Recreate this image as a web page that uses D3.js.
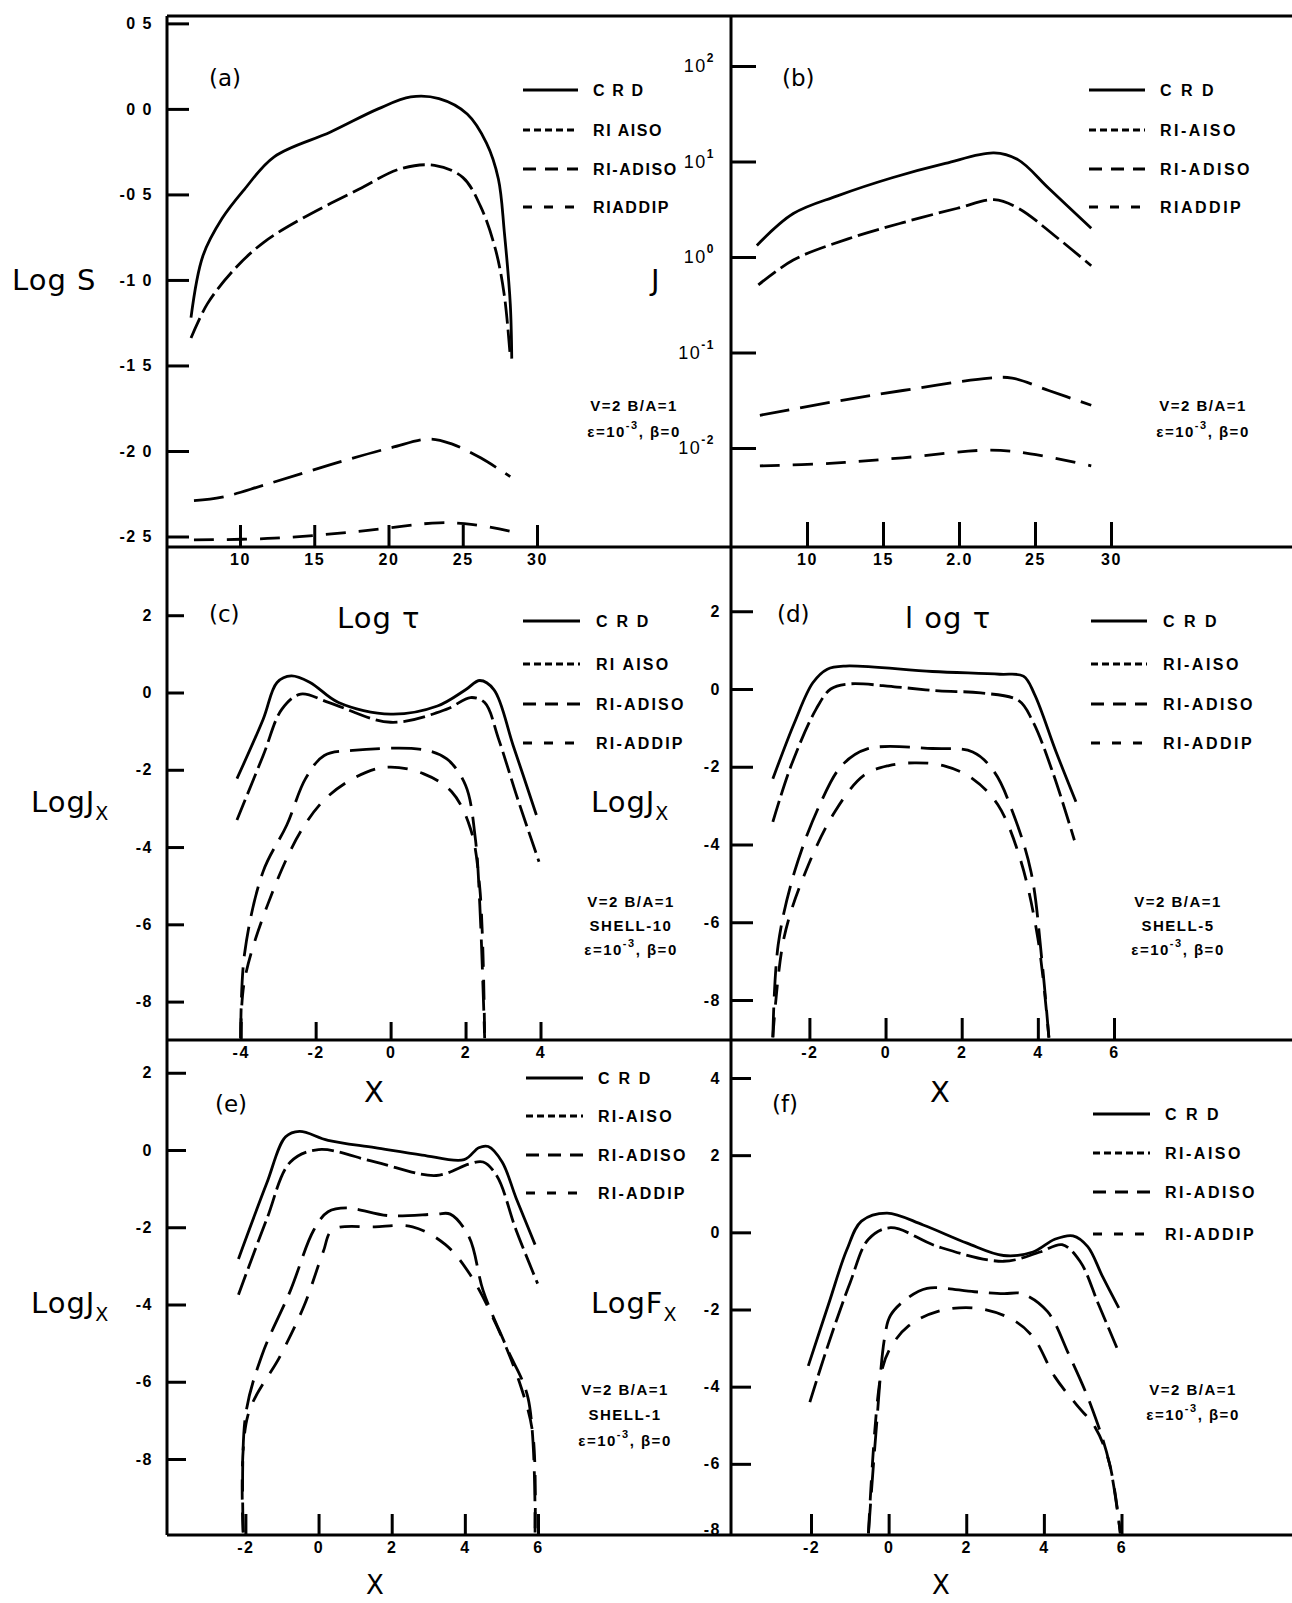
<!DOCTYPE html>
<html>
<head>
<meta charset="utf-8">
<script src="https://cdn.jsdelivr.net/npm/d3@7"></script>
<style>
  body { margin: 0; background: #fff; }
  text { font-family: "DejaVu Sans", sans-serif; fill: #000; }
</style>
</head>
<body>
<div id="chart"></div>
<script>
// ---- data: [x, y] ----
// (a) Log tau vs Log S
const aCRD   = [[0.67,-1.22],[0.75,-0.86],[0.88,-0.64],[1.03,-0.47],[1.23,-0.28],[1.61,-0.135],[1.93,0.0],[2.15,0.07],[2.34,0.06],[2.53,-0.03],[2.66,-0.2],[2.74,-0.41],[2.78,-0.72],[2.82,-1.14],[2.83,-1.46]];
const aAISO  = [[0.67,-1.34],[0.78,-1.14],[0.97,-0.93],[1.16,-0.78],[1.42,-0.64],[1.8,-0.47],[2.08,-0.35],[2.31,-0.33],[2.5,-0.40],[2.62,-0.57],[2.72,-0.82],[2.78,-1.09],[2.82,-1.45]];
const aADISO = [[0.69,-2.29],[0.88,-2.27],[1.16,-2.2],[1.61,-2.08],[2.02,-1.98],[2.28,-1.93],[2.43,-1.96],[2.62,-2.04],[2.82,-2.15]];
const aADDIP = [[0.69,-2.52],[1.23,-2.51],[1.8,-2.47],[2.34,-2.42],[2.57,-2.43],[2.85,-2.475]];
// (b) Log tau vs J (log axis)
const bCRD   = [[0.67,1.32],[0.91,2.85],[1.2,4.37],[1.56,6.76],[1.91,9.55],[2.23,12.3],[2.39,10.4],[2.59,5.25],[2.87,2.0]];
const bAISO  = [[0.68,0.51],[0.91,0.93],[1.27,1.55],[1.63,2.29],[1.99,3.24],[2.23,3.98],[2.39,3.24],[2.64,1.62],[2.87,0.81]];
const bADISO = [[0.69,0.022],[1.15,0.030],[1.63,0.040],[2.2,0.054],[2.35,0.054],[2.59,0.040],[2.87,0.028]];
const bADDIP = [[0.69,0.0065],[1.15,0.0069],[1.63,0.0079],[2.2,0.0095],[2.47,0.0087],[2.87,0.0065]];
// (c) X vs Log Jx, shell 10
const cCRD   = [[-4.1,-2.23],[-3.4,-0.69],[-3.03,0.26],[-2.65,0.43],[-2.15,0.26],[-1.39,-0.26],[0,-0.56],[1.25,-0.35],[2,0.07],[2.38,0.31],[2.76,0.07],[3.27,-1.37],[3.89,-3.17]];
const cAISO  = [[-4.1,-3.3],[-3.4,-1.63],[-2.9,-0.43],[-2.4,-0.04],[-1.64,-0.26],[0,-0.77],[1.5,-0.43],[2.13,-0.13],[2.51,-0.26],[2.88,-1.2],[3.39,-2.75],[3.96,-4.38]];
const cADISO = [[-4.0,-8.95],[-3.9,-6.78],[-3.4,-4.63],[-2.77,-3.43],[-2.27,-2.23],[-1.77,-1.63],[-1.01,-1.5],[0.87,-1.48],[1.5,-1.72],[2,-2.4],[2.26,-3.77],[2.38,-5.49],[2.51,-8.95]];
const cADDIP = [[-4.0,-8.95],[-3.9,-7.46],[-3.28,-5.49],[-2.4,-3.6],[-1.64,-2.66],[-0.64,-2.06],[0,-1.93],[0.87,-2.1],[1.63,-2.57],[2.13,-3.52],[2.38,-5.06],[2.51,-8.95]];
// (d) X vs Log Jx, shell 5
const dCRD   = [[-2.96,-2.31],[-2.39,-0.86],[-1.91,0.16],[-1.53,0.51],[-1.05,0.59],[1.23,0.45],[3.0,0.38],[3.62,0.33],[3.91,-0.13],[4.48,-1.62],[5.0,-2.9]];
const dAISO  = [[-2.96,-3.42],[-2.48,-1.97],[-1.82,-0.51],[-1.44,0],[-0.96,0.13],[0.3,0.05],[1.4,-0.05],[2.5,-0.1],[3.5,-0.3],[3.86,-0.82],[4.39,-2.14],[4.96,-3.89]];
const dADISO = [[-2.96,-8.96],[-2.82,-6.58],[-2.39,-4.7],[-1.73,-2.98],[-1.15,-1.97],[-0.48,-1.54],[1.23,-1.53],[2.29,-1.62],[2.86,-2.14],[3.34,-3.17],[3.82,-4.7],[4.1,-6.92],[4.29,-8.97]];
const dADDIP = [[-2.96,-8.96],[-2.67,-6.41],[-2.1,-4.7],[-1.34,-3.17],[-0.57,-2.22],[0.09,-1.97],[0.76,-1.9],[1.52,-1.97],[2.29,-2.31],[2.95,-2.98],[3.53,-4.35],[4.0,-6.41],[4.29,-8.97]];
// (e) X vs Log Jx, shell 1
const eCRD   = [[-2.19,-2.82],[-1.42,-0.87],[-0.9,0.34],[-0.52,0.48],[0.26,0.25],[1.54,0.06],[2.83,-0.13],[3.98,-0.25],[4.38,0.06],[4.64,0.09],[5.02,-0.31],[5.4,-1.24],[5.92,-2.45]];
const eAISO  = [[-2.19,-3.75],[-1.42,-1.8],[-0.77,-0.31],[0,0.01],[1.54,-0.31],[3.22,-0.66],[4.12,-0.36],[4.5,-0.31],[4.88,-0.68],[5.4,-2.07],[5.99,-3.46]];
const eADISO = [[-2.06,-9.9],[-2.0,-6.9],[-1.55,-5.32],[-0.77,-3.64],[-0.13,-2.07],[0.26,-1.6],[0.77,-1.5],[1.93,-1.7],[3.22,-1.66],[3.6,-1.66],[4.12,-2.26],[4.5,-3.64],[5.15,-5.13],[5.73,-6.43],[5.92,-9.9]];
const eADDIP = [[-2.06,-9.9],[-1.94,-6.9],[-1.04,-5.32],[-0.39,-4.02],[0.13,-2.63],[0.38,-2.07],[1.54,-1.99],[2.57,-1.99],[3.47,-2.45],[4.12,-3.19],[4.88,-4.57],[5.54,-6.15],[5.86,-7.36],[5.92,-9.9]];
// (f) X vs Log Fx
const fCRD   = [[-2.07,-3.46],[-1.55,-1.87],[-1.08,-0.46],[-0.7,0.29],[-0.04,0.5],[0.89,0.19],[2.02,-0.28],[2.96,-0.6],[3.72,-0.51],[4.28,-0.18],[4.75,-0.09],[5.13,-0.37],[5.5,-1.12],[5.93,-1.96]];
const fAISO  = [[-2.03,-4.4],[-1.55,-2.89],[-0.99,-1.3],[-0.52,-0.18],[0.05,0.12],[1.27,-0.37],[2.96,-0.75],[3.9,-0.51],[4.47,-0.32],[4.93,-0.75],[5.41,-1.87],[5.88,-2.99]];
const fADISO = [[-0.52,-7.8],[-0.33,-5.24],[-0.1,-2.71],[0.05,-2.15],[0.52,-1.68],[0.99,-1.45],[2.21,-1.54],[2.96,-1.59],[3.44,-1.59],[4.09,-2.05],[4.65,-3.18],[5.21,-4.48],[5.69,-5.99],[5.97,-7.8]];
const fADDIP = [[-0.52,-7.8],[-0.19,-3.65],[0.05,-2.99],[0.52,-2.42],[1.27,-2.05],[2.21,-1.96],[3.15,-2.24],[3.72,-2.71],[4.28,-3.74],[4.85,-4.48],[5.32,-5.05],[5.69,-5.99],[5.97,-7.8]];

// ---- ticks and labels ----
const tauTicks = [1, 1.5, 2, 2.5, 3];
const aXLabels = ["10", "15", "20", "25", "30"];
const bXLabels = ["10", "15", "2.0", "25", "30"];
const aYTicks = [0.5, 0, -0.5, -1, -1.5, -2, -2.5];
const aYLabels = ["0 5", "0 0", "-0 5", "-1 0", "-1 5", "-2 0", "-2 5"];
const bYTicks = [100, 10, 1, 0.1, 0.01];
const bYExp = ["2", "1", "0", "-1", "-2"];
const jTicks = [2, 0, -2, -4, -6, -8];
const jLabels = ["2", "0", "-2", "-4", "-6", "-8"];
const fTicks = [4, 2, 0, -2, -4, -6, -8];
const fLabels = ["4", "2", "0", "-2", "-4", "-6", "-8"];
const cXTicks = [-4, -2, 0, 2, 4];
const xTicks = [-2, 0, 2, 4, 6];

const legendAE = ["C R D", "RI AISO", "RI-ADISO", "RIADDIP"];
const legendB = ["C R D", "RI-AISO", "RI-ADISO", "RIADDIP"];
const legendC = ["C R D", "RI AISO", "RI-ADISO", "RI-ADDIP"];
const legendDF = ["C R D", "RI-AISO", "RI-ADISO", "RI-ADDIP"];

const curveDash = [null, "22,6", "30,11", "20,13"];
const legendDash = [null, "7,4", "13,9", "9,12"];

const W = 1292, H = 1603;
const svg = d3.select("#chart").append("svg")
    .attr("width", W).attr("height", H)
    .style("background", "#fff");

// frame lines
const L = 167, M = 731, R = W;
const rows = [16, 547, 1040, 1535];
const frame = svg.append("g").attr("stroke", "#000").attr("stroke-width", 3);
frame.append("line").attr("x1", L).attr("x2", L).attr("y1", rows[0]).attr("y2", rows[3]);
frame.append("line").attr("x1", M).attr("x2", M).attr("y1", rows[0]).attr("y2", rows[3]);
rows.forEach(y => frame.append("line").attr("x1", L).attr("x2", R).attr("y1", y).attr("y2", y));

const panels = [
    { name: "(a)", lab: [209, 86],
      x: d3.scaleLinear().domain([1, 3]).range([240, 537]),
      y: d3.scaleLinear().domain([0, -2.5]).range([108.9, 536.5]),
      data: [aCRD, aAISO, aADISO, aADDIP],
      xt: tauTicks, xl: aXLabels, ax: rows[1], xlen: 22,
      yt: aYTicks, yl: aYLabels, ay: L, ylen: 22, ypad: 14,
      leg: { x0: 523, x1: 578, tx: 593, ys: [90, 130, 169, 207], t: legendAE, sp: 1.6 },
      note: { x: 634, ys: [406, 432], lines: ["V=2  B/A=1", "eps"] } },
    { name: "(b)", lab: [782, 86],
      x: d3.scaleLinear().domain([1, 3]).range([807, 1111]),
      y: d3.scaleLog().domain([100, 0.01]).range([66, 448]),
      data: [bCRD, bAISO, bADISO, bADDIP],
      xt: tauTicks, xl: bXLabels, ax: rows[1], xlen: 25,
      yt: bYTicks, yl: null, ay: M, ylen: 25, ypad: 16,
      leg: { x0: 1089, x1: 1145, tx: 1160, ys: [90, 130, 169, 207], t: legendB, sp: 2.5 },
      note: { x: 1203, ys: [406, 432], lines: ["V=2  B/A=1", "eps"] } },
    { name: "(c)", lab: [209, 622],
      x: d3.scaleLinear().domain([-4, 4]).range([240.7, 540.5]),
      y: d3.scaleLinear().domain([0, -8]).range([692.5, 1001.6]),
      data: [cCRD, cAISO, cADISO, cADDIP],
      xt: cXTicks, xl: cXTicks.map(String), ax: rows[2], xlen: 18,
      yt: jTicks, yl: jLabels, ay: L, ylen: 17, ypad: 14,
      leg: { x0: 523, x1: 580, tx: 596, ys: [621, 664, 704, 743], t: legendC, sp: 2.2 },
      note: { x: 631, ys: [902, 926, 950], lines: ["V=2  B/A=1", "SHELL-10", "eps"] } },
    { name: "(d)", lab: [777, 622],
      x: d3.scaleLinear().domain([-2, 6]).range([809.4, 1114]),
      y: d3.scaleLinear().domain([0, -8]).range([689, 1000]),
      data: [dCRD, dAISO, dADISO, dADDIP],
      xt: xTicks, xl: xTicks.map(String), ax: rows[2], xlen: 22,
      yt: jTicks, yl: jLabels, ay: M, ylen: 22, ypad: 10,
      leg: { x0: 1091, x1: 1147, tx: 1163, ys: [621, 664, 704, 743], t: legendDF, sp: 2.5 },
      note: { x: 1178, ys: [902, 926, 950], lines: ["V=2  B/A=1", "SHELL-5", "eps"] } },
    { name: "(e)", lab: [215, 1112],
      x: d3.scaleLinear().domain([-2, 6]).range([245.4, 538]),
      y: d3.scaleLinear().domain([0, -8]).range([1150, 1459]),
      data: [eCRD, eAISO, eADISO, eADDIP],
      xt: xTicks, xl: xTicks.map(String), ax: rows[3], xlen: 21,
      yt: jTicks, yl: jLabels, ay: L, ylen: 19, ypad: 14,
      leg: { x0: 526, x1: 583, tx: 598, ys: [1078, 1116, 1155, 1193], t: legendDF, sp: 2.2 },
      note: { x: 625, ys: [1390, 1415, 1441], lines: ["V=2  B/A=1", "SHELL-1", "eps"] } },
    { name: "(f)", lab: [772, 1112],
      x: d3.scaleLinear().domain([-2, 6]).range([811, 1121.5]),
      y: d3.scaleLinear().domain([4, -8]).range([1078, 1541]),
      data: [fCRD, fAISO, fADISO, fADDIP],
      xt: xTicks, xl: xTicks.map(String), ax: rows[3], xlen: 21,
      yt: fTicks, yl: fLabels, ay: M, ylen: 20, ypad: 10,
      leg: { x0: 1093, x1: 1150, tx: 1165, ys: [1114, 1153, 1192, 1234], t: legendDF, sp: 2.5 },
      note: { x: 1193, ys: [1390, 1415], lines: ["V=2  B/A=1", "eps"] } }
];

function styleAxis(g) {
    g.select(".domain").remove();
    g.selectAll(".tick line").attr("stroke", "#000").attr("stroke-width", 3);
    g.selectAll(".tick text").attr("fill", "#000")
        .style("font-family", "'Liberation Sans', sans-serif")
        .style("font-weight", "bold")
        .style("font-size", "16px")
        .style("letter-spacing", "1.5px");
}

function epsText(sel) {
    sel.append("tspan").text("ε=10");
    sel.append("tspan").attr("dy", -8).style("font-size", "11px").text("-3");
    sel.append("tspan").attr("dy", 8).text(", β=0");
}

const line = d3.line().curve(d3.curveCatmullRom.alpha(0.5));

panels.forEach(p => {
    const g = svg.append("g");

    // x axis (ticks point up into the plot)
    const xa = g.append("g").attr("transform", `translate(0,${p.ax})`)
        .call(d3.axisBottom(p.x).tickValues(p.xt).tickSize(-p.xlen).tickPadding(7)
            .tickFormat((d, i) => p.xl[i]));
    styleAxis(xa);

    // y axis (ticks point right into the plot)
    const ya = g.append("g").attr("transform", `translate(${p.ay},0)`)
        .call(d3.axisLeft(p.y).tickValues(p.yt).tickSize(-p.ylen).tickPadding(p.ypad)
            .tickFormat((d, i) => p.yl ? p.yl[i] : ""));
    styleAxis(ya);
    if (!p.yl) {
        ya.selectAll(".tick text").each(function (d, i) {
            const t = d3.select(this).style("font-weight", "normal").style("font-size", "18px");
            t.append("tspan").text("10");
            t.append("tspan").attr("dy", -10).style("font-size", "12px").style("font-weight", "bold").text(bYExp[i]);
        });
    }
    // the lowest label of (f) sits on the frame line
    if (p.name === "(f)") {
        const low = ya.selectAll(".tick").filter(d => d === -8);
        low.select("line").remove();
        low.select("text").attr("dy", "-0.4em");
    }

    // curves
    p.data.forEach((s, i) => {
        g.append("path")
            .attr("d", line(s.map(d => [p.x(d[0]), p.y(d[1])])))
            .attr("fill", "none")
            .attr("stroke", "#000")
            .attr("stroke-width", 2.8)
            .attr("stroke-linejoin", "round")
            .attr("stroke-dasharray", curveDash[i]);
    });

    // legend
    p.leg.t.forEach((t, i) => {
        g.append("line")
            .attr("x1", p.leg.x0).attr("x2", p.leg.x1)
            .attr("y1", p.leg.ys[i]).attr("y2", p.leg.ys[i])
            .attr("stroke", "#000").attr("stroke-width", 2.8)
            .attr("stroke-dasharray", legendDash[i]);
        g.append("text")
            .attr("x", p.leg.tx).attr("y", p.leg.ys[i] + 6)
            .style("font-family", "'Liberation Sans', sans-serif")
            .style("font-weight", "bold").style("font-size", "16px")
            .style("letter-spacing", p.leg.sp + "px")
            .text(t);
    });

    // parameter note
    p.note.lines.forEach((t, i) => {
        const tx = g.append("text")
            .attr("x", p.note.x).attr("y", p.note.ys[i] + 5)
            .attr("text-anchor", "middle")
            .style("font-family", "'Liberation Sans', sans-serif")
            .style("font-weight", "bold").style("font-size", "15px")
            .style("letter-spacing", "1.5px");
        if (t === "eps") epsText(tx); else tx.text(t);
    });

    // panel letter
    g.append("text").attr("x", p.lab[0]).attr("y", p.lab[1])
        .style("font-size", "23px").text(p.name);
});

// axis titles
function title(x, y, main, sub, size) {
    const t = svg.append("text").attr("x", x).attr("y", y)
        .style("font-size", (size || 29) + "px").style("letter-spacing", "1px");
    t.append("tspan").text(main);
    if (sub) t.append("tspan").attr("dy", 8).style("font-size", "19px").text(sub);
    return t;
}
title(12, 290, "Log S");
title(651, 290, "J");
title(337, 628, "Log τ");
title(905, 628, "l og τ");
title(31, 812, "LogJ", "X");
title(591, 812, "LogJ", "X");
title(31, 1313, "LogJ", "X");
title(591, 1313, "LogF", "X");
title(364, 1102, "X");
title(930, 1102, "X");
title(366, 1594, "X", null, 26);
title(932, 1594, "X", null, 26);
</script>
</body>
</html>
